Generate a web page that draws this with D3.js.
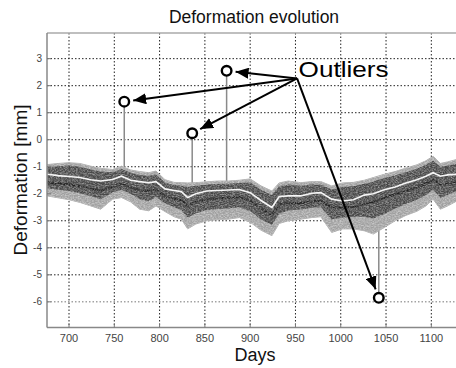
<!DOCTYPE html>
<html lang="en">
<head>
<meta charset="utf-8">
<title>Deformation evolution</title>
<script src="https://cdn.jsdelivr.net/npm/d3@7"></script>
<style>
  body { margin: 0; background: #fff; }
  svg { display: block; font-family: "Liberation Sans", Arial, sans-serif; }
</style>
</head>
<body>
<script>

// sampled days of the band
var days = [676, 688, 700, 712, 724, 735, 748, 758, 768, 778, 788, 796, 806, 816, 824,
            831, 840, 852, 864, 876, 888, 900, 912, 924, 932, 942, 956, 968, 978, 990,
            1002, 1014, 1026, 1036, 1048, 1060, 1072, 1084, 1094, 1102, 1110, 1118, 1128];

// outer edge of the bundle of curves
var upper = [-0.92, -0.88, -0.85, -0.88, -0.98, -1.06, -1.10, -0.98, -1.12, -1.18, -1.22, -1.16, -1.48, -1.58, -1.59,
             -1.60, -1.59, -1.56, -1.53, -1.53, -1.50, -1.45, -1.71, -1.90, -1.60, -1.53, -1.59, -1.55, -1.55, -1.71,
             -1.60, -1.58, -1.50, -1.40, -1.28, -1.18, -1.05, -0.93, -0.78, -0.61, -0.88, -0.82, -0.73];
var lower = [-2.08, -2.15, -2.22, -2.32, -2.45, -2.57, -2.20, -2.14, -2.30, -2.57, -2.63, -2.45, -2.66, -2.85, -2.94,
             -3.30, -3.12, -3.00, -2.96, -2.94, -2.88, -3.05, -3.35, -3.55, -3.10, -3.00, -2.94, -2.88, -2.85, -3.43,
             -3.30, -3.30, -3.37, -3.49, -3.25, -3.00, -2.80, -2.65, -2.45, -2.20, -2.57, -2.45, -2.27];

// dense dark core of the bundle
var innerTop = [-1.02, -0.98, -0.95, -1.00, -1.10, -1.18, -1.20, -1.08, -1.22, -1.30, -1.34, -1.28, -1.58, -1.68, -1.70,
                -1.75, -1.70, -1.66, -1.64, -1.63, -1.60, -1.58, -1.85, -2.05, -1.72, -1.66, -1.70, -1.66, -1.66, -1.84,
                -1.75, -1.72, -1.63, -1.55, -1.42, -1.32, -1.20, -1.07, -0.93, -0.78, -1.00, -0.95, -0.88];
var innerBottom = [-1.80, -1.85, -1.90, -1.98, -2.08, -2.20, -1.95, -1.85, -2.00, -2.20, -2.28, -2.12, -2.35, -2.50, -2.60,
                   -2.88, -2.72, -2.60, -2.56, -2.55, -2.50, -2.65, -2.95, -3.15, -2.75, -2.62, -2.58, -2.52, -2.50, -2.95,
                   -2.88, -2.85, -2.85, -2.92, -2.75, -2.55, -2.38, -2.22, -2.05, -1.85, -2.15, -2.05, -1.90];

// bright curve and dark curve inside the bundle
var whiteLine = [-1.28, -1.33, -1.36, -1.40, -1.48, -1.53, -1.47, -1.35, -1.50, -1.55, -1.59, -1.55, -1.82, -1.88, -1.92,
                 -2.14, -2.00, -1.90, -1.88, -1.86, -1.84, -1.96, -2.25, -2.51, -2.10, -2.08, -2.08, -1.98, -1.96, -2.20,
                 -2.27, -2.22, -2.05, -2.00, -1.85, -1.75, -1.60, -1.48, -1.35, -1.22, -1.35, -1.30, -1.28];
var coreLine = [-1.58, -1.62, -1.66, -1.72, -1.80, -1.88, -1.75, -1.63, -1.78, -1.86, -1.90, -1.84, -2.10, -2.18, -2.24,
                -2.45, -2.30, -2.20, -2.17, -2.15, -2.12, -2.26, -2.55, -2.78, -2.40, -2.35, -2.35, -2.28, -2.26, -2.50,
                -2.52, -2.48, -2.35, -2.30, -2.15, -2.02, -1.90, -1.78, -1.62, -1.48, -1.65, -1.60, -1.55];

// outliers (spikes leaving the band)
var outlierDays = [761, 836, 874, 1042];
var outlierValues = [1.41, 0.24, 2.55, -5.85];
var outlierBase = [-1.0, -1.6, -1.55, -3.0];
var labelDay = 951.8, labelValue = 2.27;

var xTicks = [700, 750, 800, 850, 900, 950, 1000, 1050, 1100];
var yTicks = [-6, -5, -4, -3, -2, -1, 0, 1, 2, 3];

var w = 456, h = 368;
var padL = 47, padT = 33, padB = 327.5, padR = 458.5;

var x = d3.scaleLinear().domain([675.7, 1130]).range([padL, padR]);
var y = d3.scaleLinear().domain([-6.95, 3.95]).range([padB, padT]);

var svg = d3.select("body").append("svg")
    .attr("width", w)
    .attr("height", h);

var defs = svg.append("defs");
defs.append("clipPath").attr("id", "plot")
  .append("rect")
    .attr("x", padL).attr("y", padT)
    .attr("width", padR - padL).attr("height", padB - padT);

defs.append("marker")
    .attr("id", "head")
    .attr("viewBox", "0 0 13 11")
    .attr("refX", 13).attr("refY", 5.5)
    .attr("markerWidth", 13).attr("markerHeight", 11)
    .attr("markerUnits", "userSpaceOnUse")
    .attr("orient", "auto")
  .append("path")
    .attr("d", "M0,0 L13,5.5 L0,11 Z")
    .attr("fill", "#000");

var grain = defs.append("filter").attr("id", "grain")
    .attr("x", 0).attr("y", 0).attr("width", 1).attr("height", 1);
grain.append("feTurbulence")
    .attr("type", "fractalNoise")
    .attr("baseFrequency", "0.55 1.1")
    .attr("numOctaves", 2)
    .attr("seed", 7);
grain.append("feColorMatrix")
    .attr("values", "0 0 0 0 1  0 0 0 0 1  0 0 0 0 1  0 0 0 -1.8 1.2");

//Grid
var grid = svg.append("g").attr("clip-path", "url(#plot)");
grid.selectAll(".vg")
    .data(xTicks)
    .enter()
    .append("line")
    .attr("x1", function(d) { return x(d); })
    .attr("x2", function(d) { return x(d); })
    .attr("y1", padT)
    .attr("y2", padB)
    .attr("stroke", "#222")
    .attr("stroke-width", 1)
    .attr("stroke-dasharray", "1.5,2");
grid.selectAll(".hg")
    .data(yTicks)
    .enter()
    .append("line")
    .attr("x1", padL)
    .attr("x2", padR)
    .attr("y1", function(d) { return y(d); })
    .attr("y2", function(d) { return y(d); })
    .attr("stroke", function(d) { return d == -6 ? "#777" : "#222"; })
    .attr("stroke-width", 1)
    .attr("stroke-dasharray", "1.5,2");

//Band
var idx = d3.range(days.length);
var band = svg.append("g").attr("clip-path", "url(#plot)");

var areaOf = function(a, b) {
    return d3.area()
        .x(function(i) { return x(days[i]); })
        .y0(function(i) { return y(b[i]); })
        .y1(function(i) { return y(a[i]); });
};
var lineOf = function(a) {
    return d3.line()
        .x(function(i) { return x(days[i]); })
        .y(function(i) { return y(a[i]); });
};

// spikes
band.selectAll(".spike")
    .data(outlierDays)
    .enter()
    .append("line")
    .attr("x1", function(d) { return x(d); })
    .attr("x2", function(d) { return x(d); })
    .attr("y1", function(d, i) { return y(outlierBase[i]); })
    .attr("y2", function(d, i) { return y(outlierValues[i]); })
    .attr("stroke", "#8a8a8a")
    .attr("stroke-width", 1.5);

band.append("path")
    .datum(idx)
    .attr("d", areaOf(upper, lower))
    .attr("fill", "#a0a0a0")
    .attr("stroke", "#b0b0b0")
    .attr("stroke-width", 1);
band.append("path")
    .datum(idx)
    .attr("d", areaOf(innerTop, innerBottom))
    .attr("fill", "#484848");
band.append("path")
    .datum(idx)
    .attr("d", lineOf(coreLine))
    .attr("fill", "none")
    .attr("stroke", "#222")
    .attr("stroke-width", 2);
band.append("path")
    .datum(idx)
    .attr("d", lineOf(whiteLine))
    .attr("fill", "none")
    .attr("stroke", "#f4f4f4")
    .attr("stroke-width", 1.6);

// grain over the band
defs.append("clipPath").attr("id", "bandclip")
  .append("path")
    .datum(idx)
    .attr("d", areaOf(upper, lower));
band.append("g")
    .attr("clip-path", "url(#bandclip)")
  .append("rect")
    .attr("x", padL).attr("y", padT)
    .attr("width", padR - padL).attr("height", padB - padT)
    .attr("filter", "url(#grain)")
    .attr("opacity", 0.5);

//Axes
svg.append("line")
    .attr("x1", padL).attr("x2", w).attr("y1", padT).attr("y2", padT)
    .attr("stroke", "#aaa").attr("stroke-width", 1.5);
svg.append("line")
    .attr("x1", padL).attr("x2", padL).attr("y1", padT).attr("y2", padB)
    .attr("stroke", "#888").attr("stroke-width", 1.5);
svg.append("line")
    .attr("x1", padL).attr("x2", w).attr("y1", padB).attr("y2", padB)
    .attr("stroke", "#888").attr("stroke-width", 1.5);

svg.selectAll(".xt")
    .data(xTicks)
    .enter()
    .append("line")
    .attr("x1", function(d) { return x(d); })
    .attr("x2", function(d) { return x(d); })
    .attr("y1", padB)
    .attr("y2", padB - 4)
    .attr("stroke", "#777");
svg.selectAll(".yt")
    .data(yTicks)
    .enter()
    .append("line")
    .attr("x1", padL)
    .attr("x2", padL + 4)
    .attr("y1", function(d) { return y(d); })
    .attr("y2", function(d) { return y(d); })
    .attr("stroke", "#777");

svg.selectAll(".xl")
    .data(xTicks)
    .enter()
    .append("text")
    .text(function(d) { return d; })
    .attr("x", function(d) { return x(d); })
    .attr("y", 342)
    .attr("text-anchor", "middle")
    .attr("font-size", "11px")
    .attr("fill", "#444");
svg.selectAll(".yl")
    .data(yTicks)
    .enter()
    .append("text")
    .text(function(d) { return d; })
    .attr("x", 42)
    .attr("y", function(d) { return y(d) + 3.5; })
    .attr("text-anchor", "end")
    .attr("font-size", "10px")
    .attr("fill", "#444");

svg.append("text")
    .text("Deformation evolution")
    .attr("x", 254)
    .attr("y", 23)
    .attr("text-anchor", "middle")
    .attr("font-size", "17.5px")
    .attr("fill", "#111");
svg.append("text")
    .text("Days")
    .attr("x", 255)
    .attr("y", 361)
    .attr("text-anchor", "middle")
    .attr("font-size", "18px")
    .attr("fill", "#111");
svg.append("text")
    .text("Deformation [mm]")
    .attr("transform", "translate(27,180) rotate(-90)")
    .attr("text-anchor", "middle")
    .attr("font-size", "19px")
    .attr("fill", "#111");

//Annotation
var ox = x(labelDay), oy = y(labelValue);
svg.selectAll(".arrow")
    .data(outlierDays)
    .enter()
    .append("line")
    .attr("x1", ox)
    .attr("y1", oy)
    .attr("x2", function(d, i) {
        var cx = x(d), cy = y(outlierValues[i]);
        var len = Math.hypot(ox - cx, oy - cy);
        return cx + (ox - cx) / len * 9;
    })
    .attr("y2", function(d, i) {
        var cx = x(d), cy = y(outlierValues[i]);
        var len = Math.hypot(ox - cx, oy - cy);
        return cy + (oy - cy) / len * 9;
    })
    .attr("stroke", "#000")
    .attr("stroke-width", 2)
    .attr("marker-end", "url(#head)");

svg.selectAll(".out")
    .data(outlierDays)
    .enter()
    .append("circle")
    .attr("cx", function(d) { return x(d); })
    .attr("cy", function(d, i) { return y(outlierValues[i]); })
    .attr("r", 4.8)
    .attr("fill", "#fff")
    .attr("stroke", "#000")
    .attr("stroke-width", 2.4);

svg.append("text")
    .text("Outliers")
    .attr("x", ox + 1.5)
    .attr("y", oy - 1)
    .attr("font-size", "22px")
    .attr("textLength", 90)
    .attr("lengthAdjust", "spacingAndGlyphs")
    .attr("fill", "#000");

</script>
</body>
</html>
